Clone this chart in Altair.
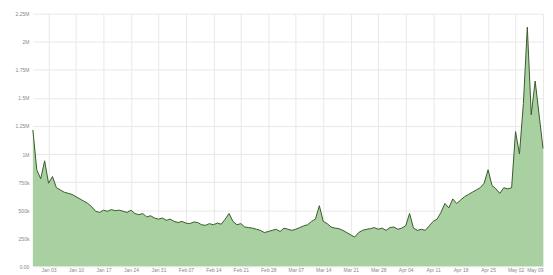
import altair as alt
import pandas as pd

# Daily values (thousands)
values_k = [
    1215, 860, 780, 940, 740, 800, 700, 680, 660, 650,
    640, 620, 600, 580, 560, 530, 490, 480, 500, 490,
    505, 495, 500, 490, 480, 500, 470, 460, 470, 440,
    450, 430, 420, 430, 410, 420, 400, 390, 400, 385,
    380, 395, 390, 370, 365, 380, 370, 385, 375, 420,
    470, 400, 370, 380, 350, 345, 340, 330, 320, 300,
    310, 320, 330, 310, 340, 330, 320, 330, 345, 360,
    370, 400, 420, 540, 400, 380, 350, 340, 335, 320,
    300, 280, 260, 300, 320, 330, 335, 345, 330, 340,
    320, 345, 350, 330, 340, 360, 470, 340, 320, 330,
    320, 360, 400, 420, 480, 560, 520, 600, 560, 590,
    620, 640, 660, 680, 700, 740, 860, 720, 690, 650,
    700, 690, 700, 1200, 1000, 1450, 2130, 1350, 1650, 1350,
    1050,
]
start_date = "2020-12-30"
tick_dates = [
    "2021-01-03", "2021-01-10", "2021-01-17", "2021-01-24", "2021-01-31",
    "2021-02-07", "2021-02-14", "2021-02-21", "2021-02-28", "2021-03-07",
    "2021-03-14", "2021-03-21", "2021-03-28", "2021-04-04", "2021-04-11",
    "2021-04-18", "2021-04-25", "2021-05-02", "2021-05-09",
]
y_ticks = [0, 250000, 500000, 750000, 1000000, 1250000, 1500000, 1750000, 2000000, 2250000]

df = pd.DataFrame({
    "date": pd.date_range(start_date, periods=len(values_k), freq="D"),
    "value": [v * 1000 for v in values_k],
})

x_enc = alt.X(
    "date:T",
    scale=alt.Scale(nice=False),
    axis=alt.Axis(
        title=None,
        values=[{"year": int(d[:4]), "month": int(d[5:7]), "date": int(d[8:])} for d in tick_dates],
        tickCount=len(tick_dates),
        format="%b %d",
        labelFontSize=5,
        labelColor="#888888",
        labelOverlap=False,
        labelFlush=True,
        tickSize=0,
        labelPadding=1,
        domain=False,
        gridColor="#e8e8e8",
    ),
)
y_enc = alt.Y(
    "value:Q",
    scale=alt.Scale(domain=[0, 2250000], nice=False),
    axis=alt.Axis(
        title=None,
        values=y_ticks,
        tickCount=len(y_ticks),
        labelExpr="datum.value == 0 ? '0.00' : datum.value >= 1000000 ? format(datum.value / 1000000, '.2~f') + 'M' : format(datum.value / 1000, 'd') + 'k'",
        labelFontSize=5,
        labelColor="#888888",
        labelOverlap=False,
        labelFlush=False,
        tickSize=0,
        labelPadding=4,
        domain=False,
        gridColor="#e8e8e8",
    ),
)

area = alt.Chart(df).mark_area(color="#a8d0a0", opacity=1, interpolate="linear").encode(x=x_enc, y=y_enc)
line = alt.Chart(df).mark_line(color="#3b5a2c", strokeWidth=1).encode(x="date:T", y="value:Q")

chart = (
    alt.layer(area, line)
    .properties(
        width=513,
        height=254,
        padding={"left": 7, "top": 3, "right": 0, "bottom": 0},
        background="white",
    )
    .configure_view(stroke=None)
)

chart.save("out.html", embed_options={"renderer": "svg", "actions": False})
